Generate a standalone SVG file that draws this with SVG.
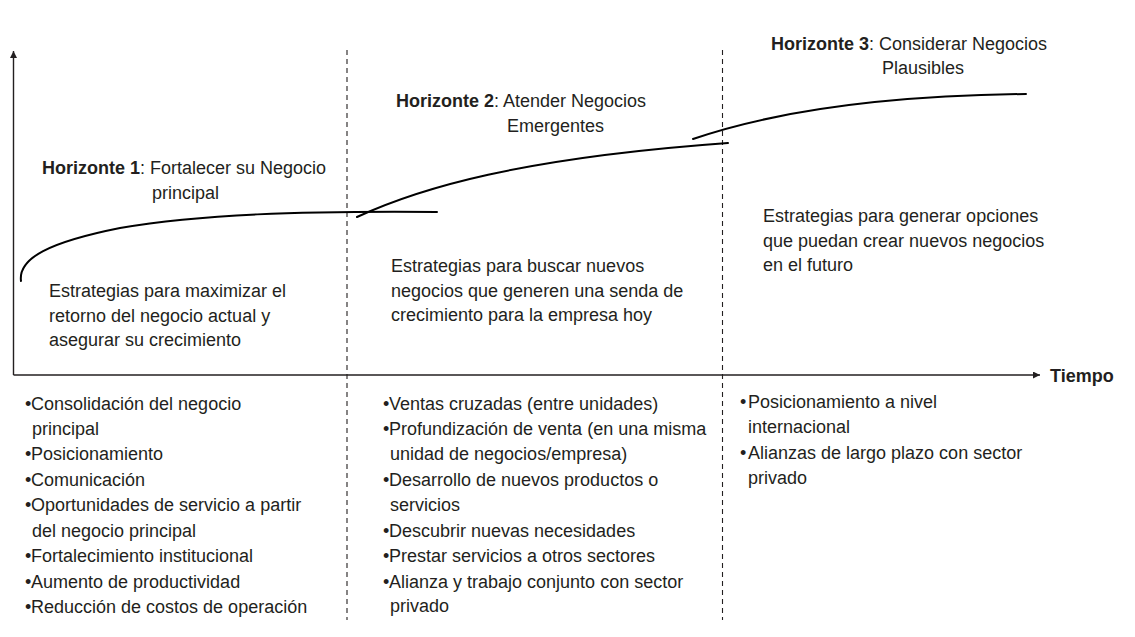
<svg xmlns="http://www.w3.org/2000/svg" width="1135" height="637" viewBox="0 0 1135 637">
<style>
text{font-family:"Liberation Sans",Arial,sans-serif;font-size:18px;fill:#231f20}
.b{font-weight:bold}
.axis{stroke:#231f20;stroke-width:1.4;fill:none}
.div{stroke:#231f20;stroke-width:1.1;stroke-dasharray:5 4;fill:none}
.curve{stroke:#000;stroke-width:2;fill:none;stroke-linecap:round}
</style>
<defs>
<marker id="ah" viewBox="0 0 10 10" refX="10" refY="5" markerWidth="7" markerHeight="7" markerUnits="userSpaceOnUse" orient="auto">
<path d="M0,0 L10,5 L0,10 Z" fill="#231f20"/>
</marker>
</defs>
<rect width="1135" height="637" fill="#fff"/>
<g id="connectors">
<path class="axis" d="M13.5,375 L13.5,51" marker-end="url(#ah)"/>
<path class="axis" d="M13.5,375 L1040,375" marker-end="url(#ah)"/>
<path class="div" d="M347,50 L347,620"/>
<path class="div" d="M722.5,50 L722.5,620"/>
<path class="curve" d="M21,281 C18,258 50,242 120,228 C200,214 300,211 437,212"/>
<path class="curve" d="M357,217 C420,188 520,158 728,143"/>
<path class="curve" d="M693,139 C760,116 860,96 1026,94"/>
</g>
<g id="tiempo"><text class="b" x="1050" y="382">Tiempo</text></g>
<g id="horizonte1">
<text x="42" y="174"><tspan class="b">Horizonte 1</tspan><tspan>: Fortalecer su Negocio</tspan></text>
<text x="152" y="199">principal</text>
<text x="49" y="297">Estrategias para maximizar el</text>
<text x="49" y="322">retorno del negocio actual y</text>
<text x="49" y="346">asegurar su crecimiento</text>
<text x="25" y="410"><tspan>•</tspan><tspan x="31">Consolidación del negocio</tspan></text>
<text x="32" y="435">principal</text>
<text x="25" y="460"><tspan>•</tspan><tspan x="31">Posicionamiento</tspan></text>
<text x="25" y="486"><tspan>•</tspan><tspan x="31">Comunicación</tspan></text>
<text x="25" y="511"><tspan>•</tspan><tspan x="31">Oportunidades de servicio a partir</tspan></text>
<text x="32" y="537">del negocio principal</text>
<text x="25" y="562"><tspan>•</tspan><tspan x="31">Fortalecimiento institucional</tspan></text>
<text x="25" y="588"><tspan>•</tspan><tspan x="31">Aumento de productividad</tspan></text>
<text x="25" y="613"><tspan>•</tspan><tspan x="31">Reducción de costos de operación</tspan></text>
</g>
<g id="horizonte2">
<text x="396" y="107"><tspan class="b">Horizonte 2</tspan><tspan>: Atender Negocios</tspan></text>
<text x="507" y="132">Emergentes</text>
<text x="391" y="272">Estrategias para buscar nuevos</text>
<text x="391" y="297">negocios que generen una senda de</text>
<text x="391" y="321">crecimiento para la empresa hoy</text>
<text x="383" y="410"><tspan>•</tspan><tspan x="389">Ventas cruzadas (entre unidades)</tspan></text>
<text x="383" y="435"><tspan>•</tspan><tspan x="389">Profundización de venta (en una misma</tspan></text>
<text x="390" y="460">unidad de negocios/empresa)</text>
<text x="383" y="486"><tspan>•</tspan><tspan x="389">Desarrollo de nuevos productos o</tspan></text>
<text x="390" y="511">servicios</text>
<text x="383" y="537"><tspan>•</tspan><tspan x="389">Descubrir nuevas necesidades</tspan></text>
<text x="383" y="562"><tspan>•</tspan><tspan x="389">Prestar servicios a otros sectores</tspan></text>
<text x="383" y="588"><tspan>•</tspan><tspan x="389">Alianza y trabajo conjunto con sector</tspan></text>
<text x="390" y="612">privado</text>
</g>
<g id="horizonte3">
<text x="771" y="50"><tspan class="b">Horizonte 3</tspan><tspan>: Considerar Negocios</tspan></text>
<text x="882" y="74">Plausibles</text>
<text x="763" y="222">Estrategias para generar opciones</text>
<text x="763" y="247">que puedan crear nuevos negocios</text>
<text x="763" y="271">en el futuro</text>
<text x="740" y="408"><tspan>•</tspan><tspan x="748">Posicionamiento a nivel</tspan></text>
<text x="748" y="433">internacional</text>
<text x="740" y="459"><tspan>•</tspan><tspan x="748">Alianzas de largo plazo con sector</tspan></text>
<text x="748" y="484">privado</text>
</g>
</svg>
